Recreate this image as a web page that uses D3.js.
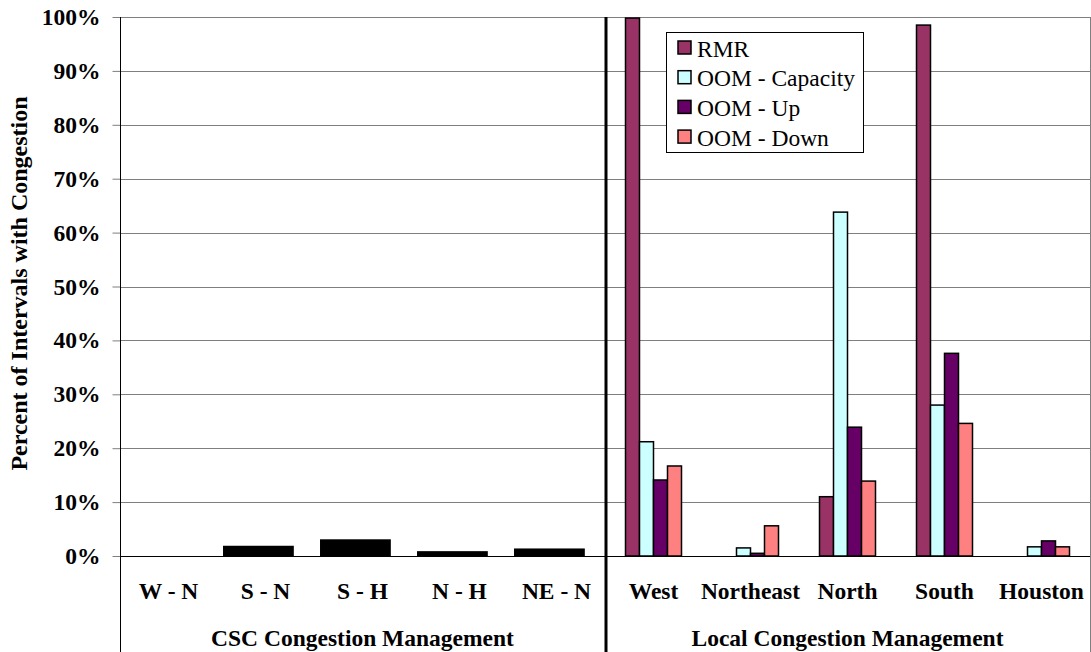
<!DOCTYPE html>
<html>
<head>
<meta charset="utf-8">
<script src="https://cdn.jsdelivr.net/npm/d3@7"></script>
<style>
  html, body { margin: 0; padding: 0; background: #fff; }
  svg { display: block; }
  text { font-family: "Liberation Serif", "Times New Roman", serif; }
</style>
</head>
<body>
<svg id="chart" width="1091" height="652"></svg>
<script>
// ---- Data ----
const categories = ["W - N", "S - N", "S - H", "N - H", "NE - N", "West", "Northeast", "North", "South", "Houston"];
const groupLabels = ["CSC Congestion Management", "Local Congestion Management"];
const groupSizes = [5, 5];
const cscValues = [0, 1.9, 3.1, 0.9, 1.4, null, null, null, null, null];
const seriesNames = ["RMR", "OOM - Capacity", "OOM - Up", "OOM - Down"];
const rmrValues      = [null, null, null, null, null, 99.8, 0,   11.0, 98.5, 0];
const oomCapValues   = [null, null, null, null, null, 21.2, 1.5, 63.8, 28.0, 1.7];
const oomUpValues    = [null, null, null, null, null, 14.1, 0.5, 23.9, 37.6, 2.8];
const oomDownValues  = [null, null, null, null, null, 16.7, 5.6, 13.9, 24.6, 1.7];
const seriesColors = ["#993366", "#CCFFFF", "#660066", "#FF8080"];
const yTicks = [0, 10, 20, 30, 40, 50, 60, 70, 80, 90, 100];

const seriesValues = [rmrValues, oomCapValues, oomUpValues, oomDownValues];

// ---- Layout ----
const svg = d3.select("#chart");
const pLeft = 120, pRight = 1090, pTop = 17, pBottom = 556, H = 652;

const x = d3.scaleBand().domain(categories).range([pLeft, pRight]).padding(0);
const y = d3.scaleLinear().domain([0, 100]).range([pBottom, pTop]);
const bw = x.bandwidth();
// series inside a local group
const xs = d3.scaleBand().domain(seriesNames).range([bw / 2 - 28, bw / 2 + 28]).padding(0);
// CSC bar placement inside its band
const xc = d3.scaleLinear().domain([0, 1]).range([0, bw]);

// gridlines
svg.append("g").selectAll("line").data(yTicks).join("line")
  .attr("x1", pLeft).attr("x2", pRight)
  .attr("y1", d => Math.round(y(d)) + 0.5).attr("y2", d => Math.round(y(d)) + 0.5)
  .attr("stroke", "#7f7f7f").attr("stroke-width", 1);

// right border of plot
svg.append("line").attr("x1", pRight + 0.5).attr("x2", pRight + 0.5).attr("y1", pTop).attr("y2", H)
  .attr("stroke", "#7f7f7f").attr("stroke-width", 1);

// CSC bars
svg.append("g").selectAll("rect")
  .data(categories.map((c, i) => ({ c, v: cscValues[i] })).filter(d => d.v !== null))
  .join("rect")
  .attr("x", d => x(d.c) + xc(0.062))
  .attr("width", xc(0.73) - xc(0))
  .attr("y", d => y(d.v))
  .attr("height", d => y(0) - y(d.v))
  .attr("fill", "#000");

// local bars
seriesNames.forEach((s, si) => {
  const data = categories.map((c, i) => ({ c, v: seriesValues[si][i] }))
    .filter(d => d.v !== null && d.v > 0);
  svg.append("g").selectAll("rect").data(data).join("rect")
    .attr("x", d => x(d.c) + xs(s))
    .attr("width", xs.bandwidth())
    .attr("y", d => y(d.v))
    .attr("height", d => y(0) - y(d.v))
    .attr("fill", seriesColors[si])
    .attr("stroke", "#000")
    .attr("stroke-width", 1.5);
});

// y axis
const yAxis = d3.axisLeft(y).tickValues(yTicks).tickSize(8).tickPadding(12).tickFormat(d => d + "%");
const gy = svg.append("g").attr("transform", `translate(${pLeft + 0.5},0)`).call(yAxis);
gy.select(".domain").remove();
gy.selectAll(".tick line").attr("stroke", "#7f7f7f");
gy.selectAll("text").attr("font-size", 23.5).attr("font-weight", "bold")
  .attr("font-family", "Liberation Serif").attr("fill", "#000");

// left axis line full height
svg.append("line").attr("x1", pLeft + 0.5).attr("x2", pLeft + 0.5).attr("y1", pTop).attr("y2", H)
  .attr("stroke", "#000").attr("stroke-width", 1);

// x axis baseline
svg.append("line").attr("x1", pLeft).attr("x2", pRight).attr("y1", pBottom + 0.5).attr("y2", pBottom + 0.5)
  .attr("stroke", "#000").attr("stroke-width", 1);

// group divider
const divX = x(categories[groupSizes[0]]) + 1;
svg.append("line").attr("x1", divX).attr("x2", divX).attr("y1", pTop).attr("y2", H)
  .attr("stroke", "#000").attr("stroke-width", 3);

// category labels
svg.append("g").selectAll("text").data(categories).join("text")
  .attr("x", d => x(d) + bw / 2)
  .attr("y", 599)
  .attr("text-anchor", "middle")
  .attr("font-size", 23.5).attr("font-weight", "bold")
  .text(d => d);

// group labels
let start = 0;
groupLabels.forEach((g, gi) => {
  const a = x(categories[start]);
  const b = x(categories[start + groupSizes[gi] - 1]) + bw;
  svg.append("text").attr("x", (a + b) / 2).attr("y", 646)
    .attr("text-anchor", "middle").attr("font-size", 23.5).attr("font-weight", "bold")
    .text(g);
  start += groupSizes[gi];
});

// y axis title
svg.append("text")
  .attr("transform", `translate(27, ${(pTop + pBottom) / 2 - 3}) rotate(-90)`)
  .attr("text-anchor", "middle")
  .attr("font-size", 24).attr("font-weight", "bold")
  .text("Percent of Intervals with Congestion");

// legend
const lg = svg.append("g").attr("transform", "translate(666,32)");
lg.append("rect").attr("x", 0.5).attr("y", 0.5).attr("width", 197).attr("height", 120)
  .attr("fill", "#fff").attr("stroke", "#000").attr("stroke-width", 1);
seriesNames.forEach((s, i) => {
  const row = lg.append("g").attr("transform", `translate(0, ${9 + i * 29.7})`);
  row.append("rect").attr("x", 12).attr("y", 0).attr("width", 13).attr("height", 13)
    .attr("fill", seriesColors[i]).attr("stroke", "#000").attr("stroke-width", 1.5);
  row.append("text").attr("x", 31).attr("y", 15.5).attr("font-size", 23.5).text(s);
});
</script>
</body>
</html>
